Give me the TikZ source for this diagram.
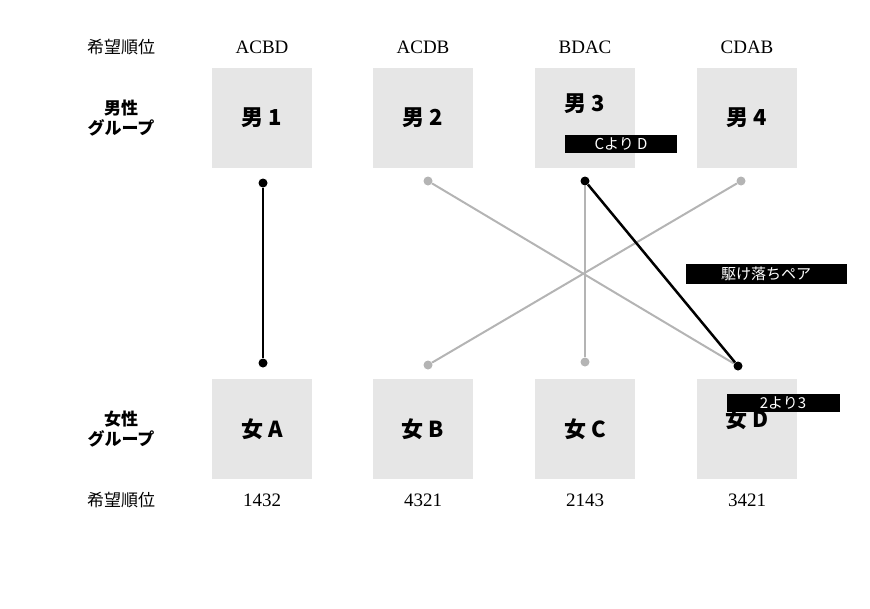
\documentclass[tikz,border=0pt]{standalone}
\usepackage{fontspec}
\newfontfamily\jp{Noto Sans CJK JP}
\setmainfont{Liberation Serif}
\usetikzlibrary{positioning}
\definecolor{boxgray}{RGB}{230,230,230}
\definecolor{linegray}{RGB}{180,180,180}
\tikzset{
  pbox/.style={fill=boxgray,minimum width=100pt,minimum height=100pt,inner sep=0pt,font=\jp\bfseries\fontsize{22}{22}\selectfont},
  tag/.style={fill=black,text=white,inner sep=3pt,font=\jp\fontsize{15}{15}\selectfont},
  hdr/.style={font=\fontsize{19}{19}\selectfont},
  grp/.style={font=\jp\bfseries\fontsize{17}{20}\selectfont,align=center},
  dot/.style={circle,fill,inner sep=0pt,minimum size=9pt}
}
\begin{document}
\begin{tikzpicture}[x=1pt,y=-1pt]
\useasboundingbox (0,0) rectangle (870,608);
% men
\node[pbox] (m1) at (262,118) {男 1};
\node[pbox] (m2) at (423,118) {男 2};
\node[pbox,text depth=30pt] (m3) at (585,118) {男 3};
\node[pbox] (m4) at (747,118) {男 4};
% women
\node[pbox] (wa) at (262,429) {女 A};
\node[pbox] (wb) at (423,429) {女 B};
\node[pbox] (wc) at (585,429) {女 C};
\node[pbox,text height=-10pt] (wd) at (747,429) {女 D};
% headers
\node[hdr] at (262,47) {ACBD};
\node[hdr] at (423,47) {ACDB};
\node[hdr] at (585,47) {BDAC};
\node[hdr] at (747,47) {CDAB};
\node[hdr] at (262,500) {1432};
\node[hdr] at (423,500) {4321};
\node[hdr] at (585,500) {2143};
\node[hdr] at (747,500) {3421};
\node[font=\jp\fontsize{17}{17}\selectfont] at (121,47) {希望順位};
\node[font=\jp\fontsize{17}{17}\selectfont] at (121,500) {希望順位};
\node[grp] at (121,118) {男性\\グループ};
\node[grp] at (121,429) {女性\\グループ};
% dots
\node[dot] (d1) at (263,183) {};
\node[dot,linegray] (d2) at (428,181) {};
\node[dot] (d3) at (585,181) {};
\node[dot,linegray] (d4) at (741,181) {};
\node[dot] (da) at (263,363) {};
\node[dot,linegray] (db) at (428,365) {};
\node[dot,linegray] (dc) at (585,362) {};
\node[dot] (dd) at (738,366) {};
% lines
\draw[linegray,line width=2pt] (d2) -- (dd);
\draw[linegray,line width=2pt] (d4) -- (db);
\draw[linegray,line width=2pt] (d3) -- (dc);
\draw[line width=2.5pt] (d1) -- (da);
\draw[line width=2.5pt] (d3) -- (dd);
% tags
\node[tag,minimum width=112pt] (t1) at (621,144) {Cより D};
\node[tag,minimum width=161pt] (t2) at (766,274) {駆け落ちペア};
\node[tag,minimum width=113pt] (t3) at (783,403) {2より3};
\end{tikzpicture}
\end{document}
